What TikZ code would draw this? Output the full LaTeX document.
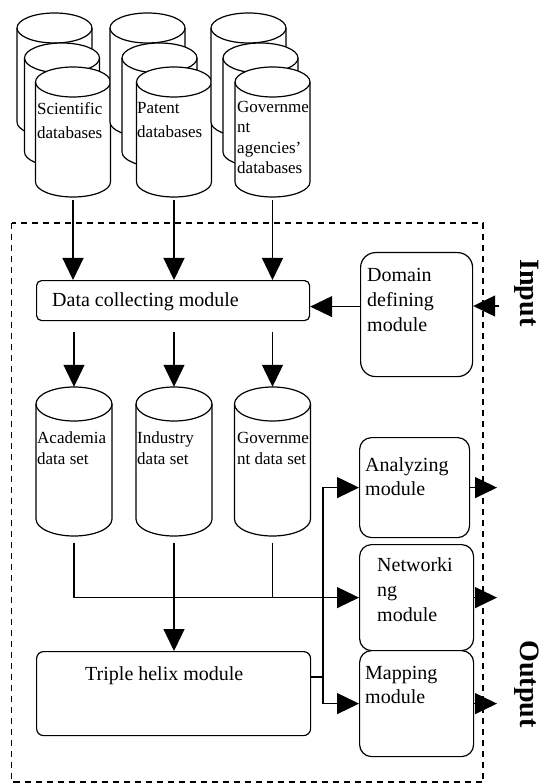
\documentclass[tikz,border=0pt]{standalone}
\usepackage{fontspec}
\setmainfont{Liberation Serif}
\usetikzlibrary{arrows.meta}
\newcommand\drawcyl[6]{%
  \pgfmathsetmacro\cylw{2*#5}%
  \pgfmathsetmacro\cylh{#4-#3}%
  \pgfmathsetmacro\cylc{-(#3+#4)/2}%
  \path[draw, ln, fill=white] (#2-#5,-#3-#6) -- (#2-#5,-#4+#6)
     arc[start angle=180, end angle=360, x radius=#5, y radius=#6]
     -- (#2+#5,-#3-#6)
     arc[start angle=0, end angle=180, x radius=#5, y radius=#6] -- cycle;
  \draw[ln] (#2-#5,-#3-#6) arc[start angle=180, end angle=360, x radius=#5, y radius=#6];
  \node[inner sep=0pt, minimum width=\cylw pt, minimum height=\cylh pt] (#1) at (#2,\cylc) {};
}
\begin{document}
\begin{tikzpicture}[x=1pt,y=1pt,
  ln/.style={line width=1.2pt},
  arr/.style={ln, -{Triangle[length=22pt,width=21pt]}},
  modbox/.style={draw, ln, fill=white, anchor=north west, inner sep=0pt},
  txt/.style={font=\fontsize{20}{25}\selectfont, align=left, inner sep=0pt, anchor=north west},
  ctxt/.style={font=\fontsize{17}{23}\selectfont, align=left, inner sep=0pt, anchor=north west},
  side/.style={font=\fontsize{28}{28}\selectfont\bfseries, rotate=-90, inner sep=0pt},
  frame/.style={line width=1.2pt, dash pattern=on 6pt off 5pt}]
\useasboundingbox (0,0) rectangle (542,-783);

% dashed system frame
\draw[frame] (11.5,-223) rectangle (483,-782);

% source databases (stacked cylinders)
\drawcyl{s1b}{54.5}{13}{137}{37.5}{15}
\drawcyl{s1m}{62}{43}{167}{37.5}{15}
\drawcyl{sci}{73}{67}{197}{37.5}{15}
\drawcyl{s2b}{147.5}{13}{137}{37.5}{15}
\drawcyl{s2m}{159.5}{43}{167}{37.5}{15}
\drawcyl{pat}{174}{67}{197}{37.5}{15}
\drawcyl{s3b}{248.5}{13}{137}{37.5}{15}
\drawcyl{s3m}{260.5}{43}{167}{37.5}{15}
\drawcyl{gov}{272.5}{67}{197}{37.5}{15}
\node[ctxt, font=\fontsize{17}{24}\selectfont] (scit) at (37,-102) {Scientific\\databases};
\node[ctxt, font=\fontsize{17}{24}\selectfont] (patt) at (137,-102) {Patent\\databases};
\node[ctxt, font=\fontsize{17}{20.5}\selectfont] (govt) at (237,-101) {Governme\\nt\\agencies'\\databases};

% modules
\node[modbox, minimum width=273pt, minimum height=40pt, rounded corners=5pt] (dc) at (36,-280) {};
\node[txt] (dct) at (52,-292) {Data collecting module};
\node[modbox, minimum width=112pt, minimum height=124pt, rounded corners=15pt] (dom) at (360,-252) {};
\node[txt] (domt) at (367,-268) {Domain\\defining\\module};

% data sets
\drawcyl{acad}{74}{387}{536}{38}{17}
\drawcyl{ind}{174}{387}{536}{38}{17}
\drawcyl{govd}{272.5}{387}{536}{38}{17}
\node[ctxt, font=\fontsize{17}{21}\selectfont] (acadt) at (37,-432) {Academia\\data set};
\node[ctxt, font=\fontsize{17}{21}\selectfont] (indt) at (137,-432) {Industry\\data set};
\node[ctxt, font=\fontsize{17}{21}\selectfont] (govdt) at (237,-432) {Governme\\nt data set};

\node[modbox, minimum width=110pt, minimum height=100pt, rounded corners=12pt] (ana) at (359,-437) {};
\node[txt, font=\fontsize{20}{24}\selectfont] (anat) at (365,-457) {Analyzing\\module};
\node[modbox, minimum width=114pt, minimum height=106pt, rounded corners=12pt] (net) at (359,-544) {};
\node[txt, font=\fontsize{20}{25}\selectfont] (nett) at (377,-557) {Networki\\ng\\module};
\node[modbox, minimum width=114pt, minimum height=106pt, rounded corners=12pt] (map) at (359,-650) {};
\node[txt, font=\fontsize{20}{24}\selectfont] (mapt) at (365,-666) {Mapping\\module};
\node[modbox, minimum width=274pt, minimum height=84pt, rounded corners=7pt] (tri) at (36,-651) {};
\node[txt] (trit) at (85,-666) {Triple helix module};

% side labels
\node[side] (inlbl) at (526.5,-293) {Input};
\node[side] (outlbl) at (526.5,-684) {Output};

% connectors
\draw[arr, shorten <=3pt] (sci.south) -- (sci.south |- dc.north);
\draw[arr, shorten <=3pt] (pat.south) -- (pat.south |- dc.north);
\draw[arr, shorten <=3pt] (gov.south) -- (gov.south |- dc.north);
\draw[arr] ([yshift=8pt]dom.west) -- ([yshift=8pt]dom.west -| dc.east);
\coordinate (inS) at (499,-306);
\draw[arr] (inS) -- (inS -| dom.east);

\draw[arr, shorten <=11pt] (acad.north |- dc.south) -- (acad.north);
\draw[arr, shorten <=11pt] (ind.north |- dc.south) -- (ind.north);
\draw[arr, shorten <=11pt] (govd.north |- dc.south) -- (govd.north);

\draw[ln, shorten <=7pt] (acad.south) -- (acad.south |- net.west);
\draw[ln, shorten <=7pt] (ind.south) -- (ind.south |- net.west);
\draw[ln, shorten <=7pt] (govd.south) -- (govd.south |- net.west);
\draw[arr] (acad.south |- net.west) -- (net.west);
\draw[arr] (ind.south |- net.west) -- (ind.south |- tri.north);

\coordinate (jn) at (323,-677);
\draw[ln] (jn -| tri.east) -- (jn);
\draw[arr] (jn) |- (ana.west);
\draw[arr] (jn) |- (map.west);

\coordinate (outx) at (497,0);
\draw[arr] (ana.east) -- (ana.east -| outx);
\draw[arr] (net.east) -- (net.east -| outx);
\draw[arr] (map.east) -- (map.east -| outx);
\end{tikzpicture}
\end{document}
